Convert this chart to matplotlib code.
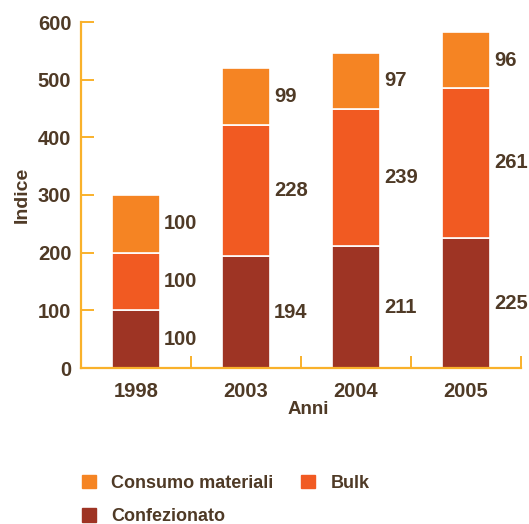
import matplotlib.pyplot as plt
import numpy as np
from matplotlib.patches import Patch

anni = ['1998', '2003', '2004', '2005']
confezionato = [100, 194, 211, 225]
bulk = [100, 228, 239, 261]
consumo = [100, 99, 97, 96]

col_conf = '#9E3424'
col_bulk = '#F15A22'
col_cons = '#F58423'
col_axis = '#F9B12B'
col_text = '#4F3A26'

plt.rcParams['font.family'] = ['Liberation Sans', 'DejaVu Sans']
plt.rcParams['font.weight'] = 'bold'

fig = plt.figure(figsize=(5.29, 5.24), dpi=100)
ax = fig.add_axes([81 / 529, 1 - 368 / 524, 440 / 529, 346 / 524])

x = np.arange(len(anni))
w = 0.43
conf = np.array(confezionato)
bk = np.array(bulk)
cs = np.array(consumo)

# stacked bars, value printed to the right of each segment
series = [(conf, np.zeros(4), col_conf),
          (bk, conf, col_bulk),
          (cs, conf + bk, col_cons)]
for vals, base, col in series:
    ax.bar(x, vals, w, bottom=base, color=col, edgecolor='white', linewidth=1.2)
    for xi, v, b in zip(x, vals, base):
        ax.text(xi + w / 2 + 0.04, b + v / 2, str(v), ha='left', va='center',
                fontsize=14.5, color=col_text, fontweight='bold')

ax.set_xlim(-0.5, 3.5)
ax.set_ylim(0, 600)
for s in ['top', 'right']:
    ax.spines[s].set_visible(False)
for s in ['left', 'bottom']:
    ax.spines[s].set_color(col_axis)
    ax.spines[s].set_linewidth(1.6)

ax.set_yticks(range(0, 601, 100))
ax.tick_params(axis='y', direction='in', length=9, width=1.4, color=col_axis,
               labelsize=14.5, labelcolor=col_text, pad=7)
ax.set_xticks(x)
ax.set_xticklabels(anni)
ax.tick_params(axis='x', length=0, labelsize=14.5, labelcolor=col_text, pad=10)
ax.set_xticks(x + 0.5, minor=True)
ax.tick_params(axis='x', which='minor', direction='in', length=9, width=1.4,
               color=col_axis)

ax.set_ylabel('Indice', fontsize=14, color=col_text, fontweight='bold')
ax.yaxis.set_label_coords(-0.114, 0.5)
ax.set_xlabel('Anni', fontsize=13.5, color=col_text, fontweight='bold')
ax.xaxis.set_label_coords(0.516, -0.096)

handles = [Patch(color=col_cons, label='Consumo materiali'),
           Patch(color=col_conf, label='Confezionato'),
           Patch(color=col_bulk, label='Bulk')]
leg = fig.legend(handles=handles, loc='upper left', bbox_to_anchor=(0.155, 0.094),
                 ncol=2, frameon=False, fontsize=13, handlelength=0.78,
                 handleheight=0.78, handletextpad=0.83, columnspacing=1.55,
                 labelspacing=0.9, borderpad=0, borderaxespad=0)
for t in leg.get_texts():
    t.set_color(col_text)
    t.set_fontweight('bold')

fig.savefig('out.png', dpi=100)
